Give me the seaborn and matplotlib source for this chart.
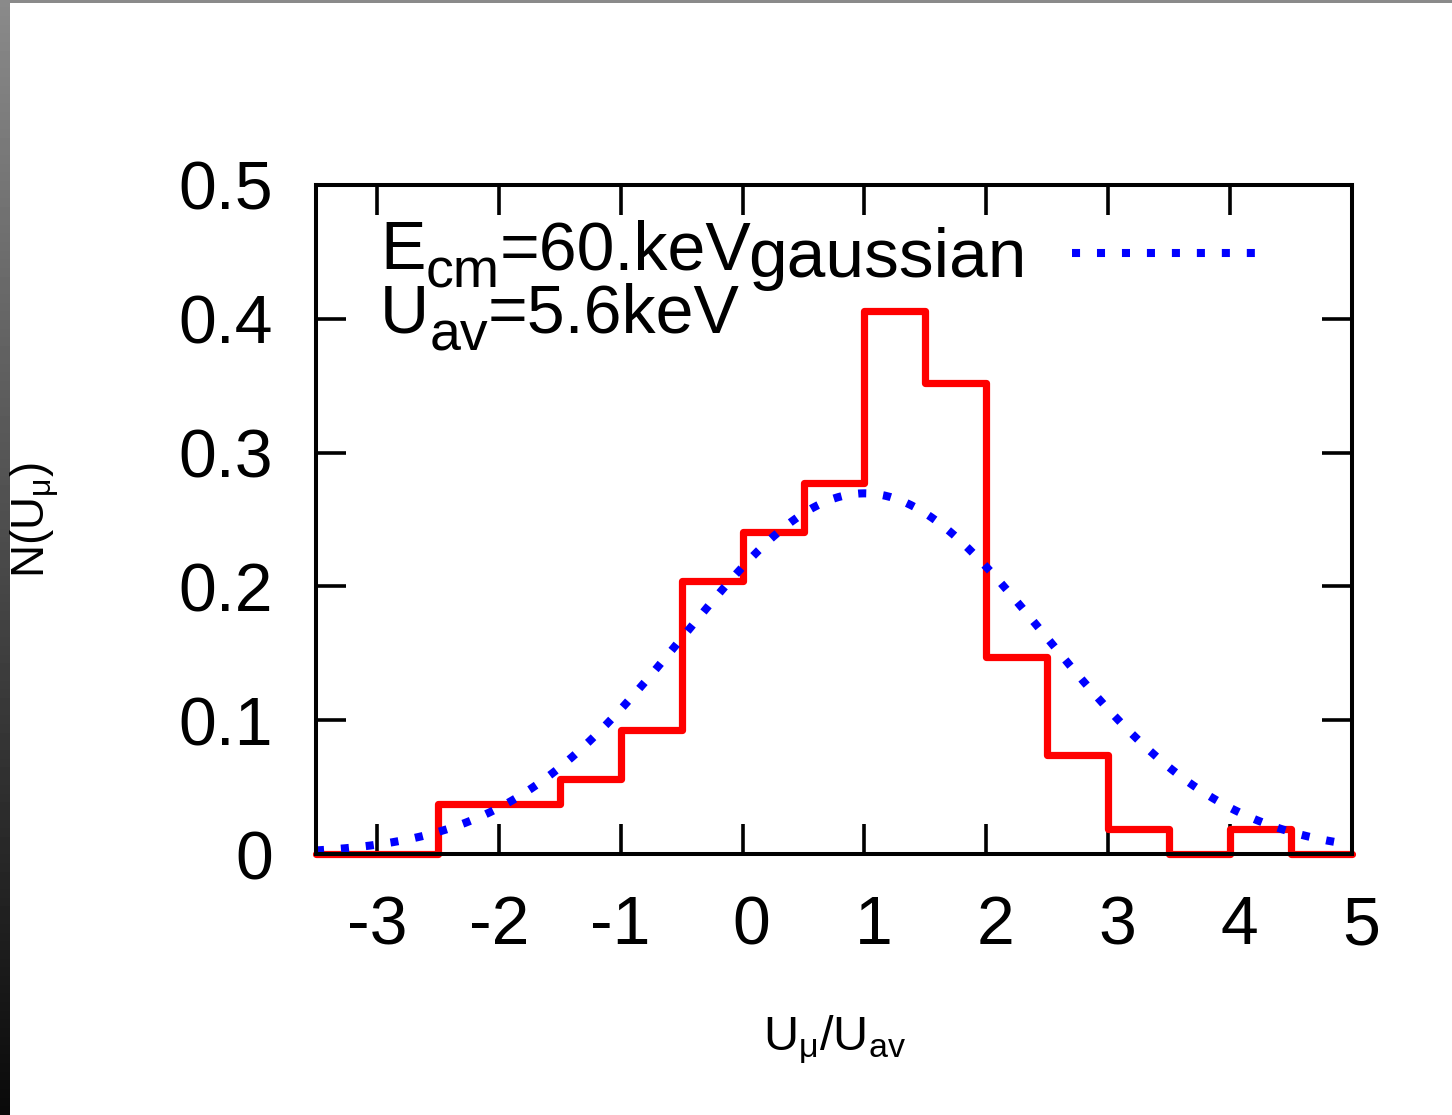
import numpy as np
import matplotlib
matplotlib.use("Agg")
import matplotlib.pyplot as plt
import matplotlib.transforms as mtransforms
from matplotlib.patches import Rectangle
import seaborn as sns

# Histogram of U_mu / U_av (bin edges and normalised heights)
bin_edges = [-3.5, -3.0, -2.5, -2.0, -1.5, -1.0, -0.5, 0.0, 0.5,
             1.0, 1.5, 2.0, 2.5, 3.0, 3.5, 4.0, 4.5, 5.0]
hist_values = [0.0, 0.0, 0.037, 0.037, 0.056, 0.093, 0.204, 0.241, 0.277,
               0.406, 0.352, 0.147, 0.074, 0.019, 0.0, 0.019, 0.0]

# Gaussian fit parameters
gauss_mean = 1.0
gauss_sigma = 1.48

x_ticks = [-3, -2, -1, 0, 1, 2, 3, 4, 5]
x_tick_labels = ["-3", "-2", "-1", "0", "1", "2", "3", "4", "5"]
y_ticks = [0.0, 0.1, 0.2, 0.3, 0.4, 0.5]
y_tick_labels = ["0", "0.1", "0.2", "0.3", "0.4", "0.5"]

sns.set_style("white")
plt.rcParams["font.family"] = ["Liberation Sans", "DejaVu Sans"]
plt.rcParams["mathtext.fontset"] = "custom"
plt.rcParams["mathtext.rm"] = "Liberation Sans"
plt.rcParams["mathtext.it"] = "Liberation Sans"
plt.rcParams["mathtext.bf"] = "Liberation Sans:bold"
for key in ("text.color", "axes.labelcolor", "xtick.color", "ytick.color",
            "axes.edgecolor"):
    plt.rcParams[key] = "black"

W, H = 1452, 1115
fig = plt.figure(figsize=(W / 100, H / 100), dpi=100)
fig.patch.set_facecolor("white")
ax = fig.add_axes([316 / W, 1 - 854 / H, (1352 - 316) / W, (854 - 185) / H])
ax.set_facecolor("white")

edges = np.array(bin_edges)
centers = (edges[:-1] + edges[1:]) / 2
sns.histplot(x=centers, weights=hist_values, bins=bin_edges, element="step",
             fill=False, color="#ff0000", linewidth=5.2, clip_on=False, ax=ax)

xs = np.linspace(bin_edges[0], bin_edges[-1], 600)
gauss = np.exp(-0.5 * ((xs - gauss_mean) / gauss_sigma) ** 2) / (gauss_sigma * np.sqrt(2 * np.pi))
sns.lineplot(x=xs, y=gauss, color="#0000ff", linewidth=5.8,
             linestyle=(0, (1, 2.1)), dash_capstyle="butt",
             label="gaussian", ax=ax)

ax.set_xlim(bin_edges[0], bin_edges[-1])
ax.set_ylim(0, 0.5)
ax.set_xticks(x_ticks)
ax.set_xticklabels(x_tick_labels)
ax.set_yticks(y_ticks)
ax.set_yticklabels(y_tick_labels)
ax.set_xlabel("")
ax.set_ylabel("")

ax.tick_params(axis="both", which="both", direction="in", length=21.5, width=2.6,
               color="black", labelcolor="black", labelsize=49,
               top=True, right=True, bottom=True, left=True)
ax.tick_params(axis="y", pad=31)
ax.tick_params(axis="x", pad=29)
for s in ax.spines.values():
    s.set_visible(True)
    s.set_color("black")
    s.set_linewidth(2.9)

# non-negative x labels sit slightly right of their ticks
shift = mtransforms.ScaledTranslation(9 / 100, 0, fig.dpi_scale_trans)
for lbl in ax.get_xticklabels():
    if not lbl.get_text().startswith("-"):
        lbl.set_transform(lbl.get_transform() + shift)

leg = ax.legend(loc="center right", bbox_to_anchor=(0.906, 0.889),
                frameon=False, fontsize=50, markerfirst=False,
                handlelength=2.63, handletextpad=0.65, borderpad=0,
                borderaxespad=0)


def sub_label(x, y, parts, size=49, sub_size=40, drop=13.5):
    """Write text with lowered subscripts; parts = [(text, is_sub), ...]."""
    desc = 0.212
    prev = None
    prev_sub = False
    for text, is_sub in parts:
        fs = sub_size if is_sub else size
        if prev is None:
            prev = ax.text(x, y, text, transform=ax.transAxes, fontsize=fs,
                           ha="left", va="baseline")
            prev_sub = is_sub
            continue
        prev_fs = sub_size if prev_sub else size
        prev_base = -drop if prev_sub else 0.0
        cur_base = -drop if is_sub else 0.0
        # previous bbox bottom is prev_base - desc*prev_fs; place this baseline
        dy = cur_base - (prev_base - desc * prev_fs) - desc * fs
        prev = ax.annotate(text, xy=(1, 0), xycoords=prev, xytext=(0, dy),
                           textcoords="offset points", fontsize=fs,
                           ha="left", va="bottom")
        prev_sub = is_sub


sub_label(0.0618, 0.874, [("E", False), ("cm", True), ("=60.keV", False)])
sub_label(0.0618, 0.779, [("U", False), ("av", True), ("=5.6keV", False)])

fig.text(35 / W, 1 - 520 / H, r"N(U$_{\mathregular{μ}}$)", rotation=90,
         fontsize=33, ha="center", va="center")
fig.text(835 / W, 1 - 1040 / H, r"U$_{\mathregular{μ}}$/U$_{\mathregular{av}}$",
         fontsize=35, ha="center", va="center")

# window border: grey line on top, dark gradient strip on the left
fig.add_artist(Rectangle((0, 1 - 3 / H), 1, 3 / H, transform=fig.transFigure,
                         facecolor="#8a8a8a", edgecolor="none"))
strip = fig.add_axes([0, 0, 10 / W, 1 - 3 / H])
grad = np.linspace(0.54, 0.04, 256).reshape(-1, 1)
strip.imshow(grad, aspect="auto", cmap="gray", vmin=0, vmax=1)
strip.set_axis_off()

fig.savefig("out.png", dpi=100)
